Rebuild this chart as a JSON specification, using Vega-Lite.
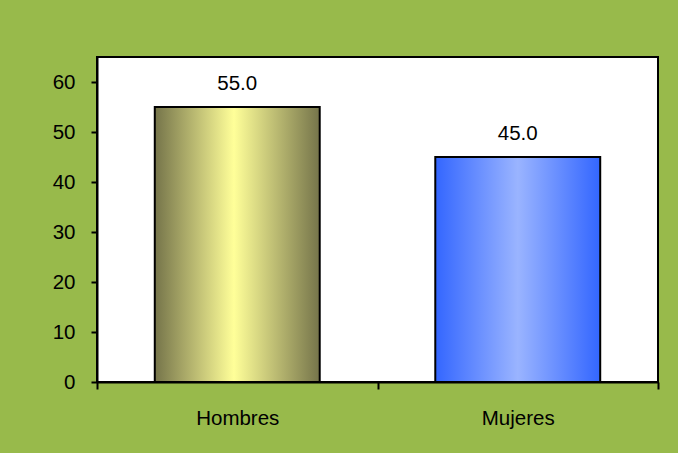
{
  "$schema": "https://vega.github.io/schema/vega-lite/v6.json",
  "width": 561,
  "height": 325,
  "autosize": {"type": "none"},
  "padding": {"left": 97, "top": 57, "right": 20, "bottom": 71},
  "background": "#98ba4b",
  "config": {
    "font": "Liberation Sans",
    "view": {"fill": "white", "stroke": "black", "strokeWidth": 2}
  },
  "data": {
    "values": [
      {"sexo": "Hombres", "pct": 55.0},
      {"sexo": "Mujeres", "pct": 45.0}
    ]
  },
  "encoding": {
    "x": {
      "field": "sexo",
      "type": "nominal",
      "sort": ["Hombres", "Mujeres"],
      "scale": {"paddingInner": 0, "paddingOuter": 0},
      "axis": {
        "title": null,
        "labelAngle": 0,
        "labelFontSize": 20.5,
        "labelColor": "black",
        "labelPadding": 19,
        "domainColor": "black",
        "domainWidth": 2,
        "tickColor": "black",
        "tickWidth": 2,
        "tickSize": 7,
        "tickBand": "extent"
      }
    },
    "y": {
      "field": "pct",
      "type": "quantitative",
      "scale": {"domain": [0, 65], "nice": false},
      "axis": {
        "title": null,
        "values": [0, 10, 20, 30, 40, 50, 60],
        "grid": false,
        "labelFontSize": 20.5,
        "labelColor": "black",
        "labelPadding": 16,
        "domainColor": "black",
        "domainWidth": 2,
        "tickColor": "black",
        "tickWidth": 2,
        "tickSize": 6
      }
    }
  },
  "layer": [
    {
      "transform": [{"filter": "datum.sexo === 'Hombres'"}],
      "mark": {
        "type": "bar",
        "width": {"band": 0.588},
        "stroke": "black",
        "strokeWidth": 2,
        "color": {
          "gradient": "linear",
          "x1": 0, "y1": 0, "x2": 1, "y2": 0,
          "stops": [
            {"offset": 0, "color": "#75744a"},
            {"offset": 0.48, "color": "#ffff99"},
            {"offset": 1, "color": "#75744a"}
          ]
        }
      }
    },
    {
      "transform": [{"filter": "datum.sexo === 'Mujeres'"}],
      "mark": {
        "type": "bar",
        "width": {"band": 0.588},
        "stroke": "black",
        "strokeWidth": 2,
        "color": {
          "gradient": "linear",
          "x1": 0, "y1": 0, "x2": 1, "y2": 0,
          "stops": [
            {"offset": 0, "color": "#3366ff"},
            {"offset": 0.5, "color": "#9ab4ff"},
            {"offset": 1, "color": "#3366ff"}
          ]
        }
      }
    },
    {
      "mark": {"type": "text", "dy": -23, "fontSize": 20.5, "color": "black"},
      "encoding": {"text": {"field": "pct", "type": "quantitative", "format": ".1f"}}
    }
  ]
}
